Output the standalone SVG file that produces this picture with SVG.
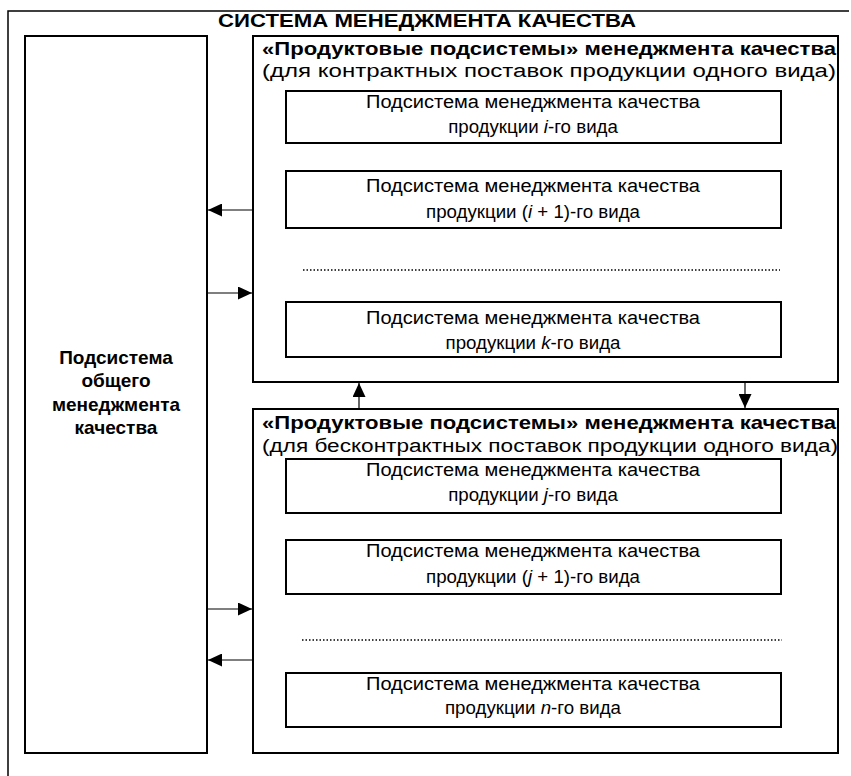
<svg xmlns="http://www.w3.org/2000/svg" width="851" height="776" viewBox="0 0 851 776">
<defs>
<marker id="ah" viewBox="0 0 14 13" refX="14" refY="6.5" markerWidth="14" markerHeight="13" markerUnits="userSpaceOnUse" orient="auto">
<path d="M0,0 L14,6.5 L0,13 Z" fill="#000"/>
</marker>
</defs>
<style>
text{font-family:"Liberation Sans",Arial,sans-serif;fill:#000;text-anchor:middle}
.b{font-weight:bold}
.t{font-size:19px}
.n{font-size:18px}
.n2{font-size:18.7px}
.box{fill:#fff;stroke:#000;stroke-width:2}
.con{stroke:#000;stroke-width:1.2;fill:none}
.dot{stroke:#000;stroke-width:1.5;stroke-dasharray:1.5 2;fill:none}
.i{font-style:italic}
</style>
<rect x="0" y="0" width="851" height="776" fill="#fff"/>
<g id="system">
<path d="M8,790 L8,11 L849,11" fill="none" stroke="#000" stroke-width="1.5"/>
<text class="b" x="427" y="27" font-size="18" textLength="418" lengthAdjust="spacingAndGlyphs">СИСТЕМА МЕНЕДЖМЕНТА КАЧЕСТВА</text>
</g>
<g id="general">
<rect class="box" x="25" y="36" width="182" height="717"/>
<text class="b t" x="116" y="364">Подсистема</text>
<text class="b t" x="116" y="387">общего</text>
<text class="b t" x="116" y="411">менеджмента</text>
<text class="b t" x="116" y="434">качества</text>
</g>
<g id="contract">
<rect class="box" x="253" y="36" width="585" height="346"/>
<text class="b t" x="549" y="55" textLength="574" lengthAdjust="spacingAndGlyphs">«Продуктовые подсистемы» менеджмента качества</text>
<text class="n" x="549" y="77" textLength="574" lengthAdjust="spacingAndGlyphs">(для контрактных поставок продукции одного вида)</text>
<line class="dot" x1="303" y1="270" x2="780" y2="270"/>
</g>
<g id="prod-i">
<rect class="box" x="286" y="91" width="495" height="52"/>
<text class="n" x="533" y="108" textLength="334" lengthAdjust="spacingAndGlyphs">Подсистема менеджмента качества</text>
<text class="n2" x="533" y="133">продукции <tspan class="i">i</tspan>-го вида</text>
</g>
<g id="prod-i1">
<rect class="box" x="286" y="171" width="495" height="57"/>
<text class="n" x="533" y="192" textLength="334" lengthAdjust="spacingAndGlyphs">Подсистема менеджмента качества</text>
<text class="n2" x="533" y="218">продукции (<tspan class="i">i</tspan> + 1)-го вида</text>
</g>
<g id="prod-k">
<rect class="box" x="286" y="302" width="495" height="55"/>
<text class="n" x="533" y="324" textLength="334" lengthAdjust="spacingAndGlyphs">Подсистема менеджмента качества</text>
<text class="n2" x="533" y="349">продукции <tspan class="i">k</tspan>-го вида</text>
</g>
<g id="noncontract">
<rect class="box" x="253" y="409" width="585" height="344"/>
<text class="b t" x="549" y="429" textLength="574" lengthAdjust="spacingAndGlyphs">«Продуктовые подсистемы» менеджмента качества</text>
<text class="n" x="550" y="452" textLength="576" lengthAdjust="spacingAndGlyphs">(для бесконтрактных поставок продукции одного вида)</text>
<line class="dot" x1="302" y1="640" x2="782" y2="640"/>
</g>
<g id="prod-j">
<rect class="box" x="286" y="459" width="495" height="54"/>
<text class="n" x="533" y="476" textLength="334" lengthAdjust="spacingAndGlyphs">Подсистема менеджмента качества</text>
<text class="n2" x="533" y="501">продукции <tspan class="i">j</tspan>-го вида</text>
</g>
<g id="prod-j1">
<rect class="box" x="286" y="540" width="495" height="54"/>
<text class="n" x="533" y="557" textLength="334" lengthAdjust="spacingAndGlyphs">Подсистема менеджмента качества</text>
<text class="n2" x="533" y="583">продукции (<tspan class="i">j</tspan> + 1)-го вида</text>
</g>
<g id="prod-n">
<rect class="box" x="286" y="673" width="495" height="54"/>
<text class="n" x="533" y="690" textLength="334" lengthAdjust="spacingAndGlyphs">Подсистема менеджмента качества</text>
<text class="n2" x="533" y="714">продукции <tspan class="i">n</tspan>-го вида</text>
</g>
<g id="connectors">
<line class="con" x1="252" y1="210" x2="208" y2="210" marker-end="url(#ah)"/>
<line class="con" x1="208" y1="293" x2="252" y2="293" marker-end="url(#ah)"/>
<line class="con" x1="208" y1="609" x2="252" y2="609" marker-end="url(#ah)"/>
<line class="con" x1="252" y1="660" x2="208" y2="660" marker-end="url(#ah)"/>
<line class="con" x1="359" y1="408" x2="359" y2="383" marker-end="url(#ah)"/>
<line class="con" x1="745" y1="383" x2="745" y2="408" marker-end="url(#ah)"/>
</g>
</svg>
